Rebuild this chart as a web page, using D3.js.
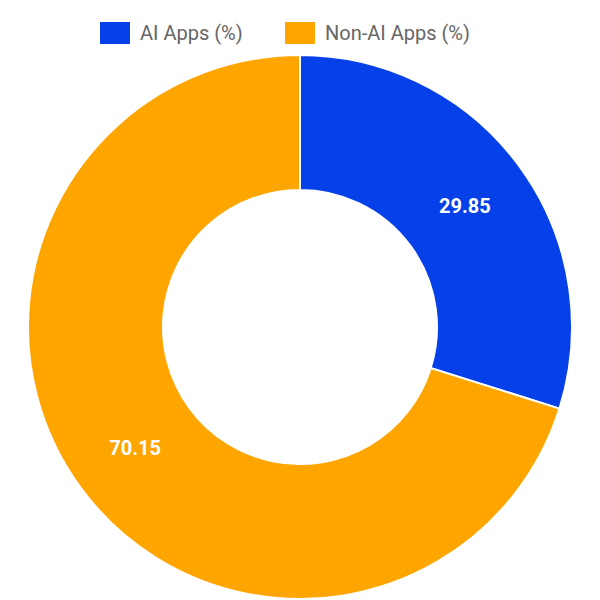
<!DOCTYPE html>
<html><head><meta charset="utf-8">
<script src="https://cdn.jsdelivr.net/npm/d3@7"></script>
<style>body{margin:0;background:#fff}</style></head>
<body><svg id="c" width="600" height="600"></svg>
<script>
const categories = ["AI Apps (%)", "Non-AI Apps (%)"];
const values = [29.85, 70.15];
const colors = ["#0540E8", "#FFA500"];

const svg = d3.select("#c");
const cx = 300, cy = 327, R = 272, r = 137;
const pie = d3.pie().sort(null).value(d => d)(values);
const arc = d3.arc().innerRadius(r).outerRadius(R);
const g = svg.append("g").attr("transform", `translate(${cx},${cy})`);
g.selectAll("path").data(pie).join("path")
  .attr("d", arc).attr("fill", (d,i) => colors[i])
  .attr("stroke", "#fff").attr("stroke-width", 2);
const mid = d3.arc().innerRadius((R+r)/2).outerRadius((R+r)/2);
g.selectAll("text").data(pie).join("text")
  .attr("transform", d => `translate(${mid.centroid(d)})`)
  .attr("text-anchor", "middle").attr("dominant-baseline", "central")
  .attr("fill", "#fff").attr("font-family", "Roboto, Arial, sans-serif")
  .attr("font-weight", "bold").attr("font-size", 20)
  .text(d => d.data.toFixed(2));

// legend
const lg = svg.append("g").attr("font-family", "Roboto, Arial, sans-serif").attr("font-size", 20).attr("fill", "#666");
const items = [{x: 100, t: categories[0]}, {x: 285, t: categories[1]}];
items.forEach((it, i) => {
  lg.append("rect").attr("x", it.x).attr("y", 22).attr("width", 30).attr("height", 22).attr("fill", colors[i]);
  lg.append("text").attr("x", it.x + 40).attr("y", 33).attr("dominant-baseline", "central").text(it.t);
});
</script></body></html>
